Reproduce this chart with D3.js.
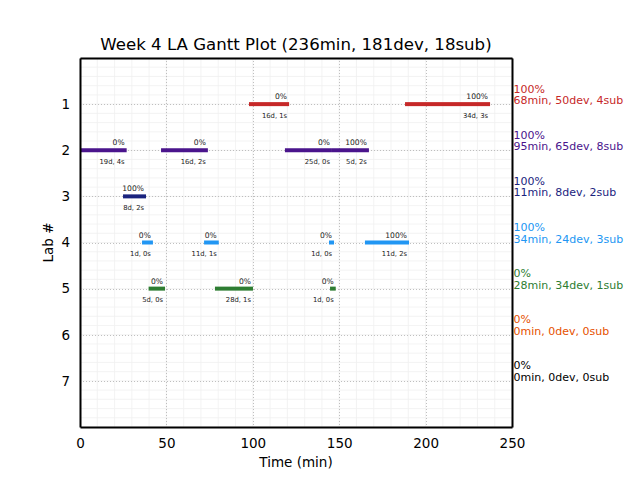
<!DOCTYPE html>
<html><head><meta charset="utf-8">
<script src="https://cdn.jsdelivr.net/npm/d3@7"></script>
<style>body{margin:0;background:#fff}text{font-family:"DejaVu Sans",sans-serif}</style>
</head><body><svg id="c" width="640" height="480"></svg>
<script>
const titleText = "Week 4 LA Gantt Plot (236min, 181dev, 18sub)";
const labs = [1, 2, 3, 4, 5, 6, 7];
const labColors = ["#C62828", "#4A148C", "#1A237E", "#2196F3", "#2E7D32", "#E65100", "#000000"];
const labPct = ["100%", "100%", "100%", "100%", "0%", "0%", "0%"];
const labSummary = ["68min, 50dev, 4sub", "95min, 65dev, 8sub", "11min, 8dev, 2sub", "34min, 24dev, 3sub", "28min, 34dev, 1sub", "0min, 0dev, 0sub", "0min, 0dev, 0sub"];
const xTicks = [0, 50, 100, 150, 200, 250];
const taskLab   = [1, 1, 2, 2, 2, 2, 3, 4, 4, 4, 4, 5, 5, 5];
const taskStart = [97.8, 188.1, 0, 46.9, 118.6, 145.8, 24.9, 35.9, 71.8, 144.1, 164.9, 39.7, 78.1, 144.7];
const taskEnd   = [121, 237.3, 27, 74, 145.8, 167.2, 38.2, 42.2, 80.3, 147, 190.4, 49.2, 100.1, 148];
const taskPct   = ["0%", "100%", "0%", "0%", "0%", "100%", "100%", "0%", "0%", "0%", "100%", "0%", "0%", "0%"];
const taskNote  = ["16d, 1s", "34d, 3s", "19d, 4s", "16d, 2s", "25d, 0s", "5d, 2s", "8d, 2s", "1d, 0s", "11d, 1s", "1d, 0s", "11d, 2s", "5d, 0s", "28d, 1s", "1d, 0s"];

const svg = d3.select("#c");
const L = 80, R = 512, T = 58, B = 427;
const x = d3.scaleLinear().domain([0, 250]).range([L, R]);
const y = d3.scaleLinear().domain([0, 8]).range([T, B]);

// minor grid
const g = svg.append("g").attr("class", "grid");
g.selectAll("line.mx").data(d3.range(0, 251, 10)).enter().append("line").attr("class", "mx")
  .attr("x1", d => x(d)).attr("x2", d => x(d)).attr("y1", T).attr("y2", B)
  .attr("stroke", "#f0f0f0").attr("stroke-width", 0.8);
g.selectAll("line.my").data(d3.range(0, 8.01, 0.2)).enter().append("line").attr("class", "my")
  .attr("y1", d => y(d)).attr("y2", d => y(d)).attr("x1", L).attr("x2", R)
  .attr("stroke", "#f0f0f0").attr("stroke-width", 0.8);
// major grid
g.selectAll("line.Mx").data(xTicks).enter().append("line").attr("class", "Mx")
  .attr("x1", d => Math.round(x(d)) + 0.5).attr("x2", d => Math.round(x(d)) + 0.5).attr("y1", T).attr("y2", B)
  .attr("stroke", "#b0b0b0").attr("stroke-width", 0.8).attr("stroke-dasharray", "1,2");
g.selectAll("line.My").data(labs).enter().append("line").attr("class", "My")
  .attr("y1", d => Math.round(y(d)) + 0.5).attr("y2", d => Math.round(y(d)) + 0.5).attr("x1", L).attr("x2", R)
  .attr("stroke", "#b0b0b0").attr("stroke-width", 0.8).attr("stroke-dasharray", "1,2");

// bars
const tasks = taskLab.map((l, i) => ({lab: l, s: taskStart[i], e: taskEnd[i], p: taskPct[i], n: taskNote[i]}));
svg.selectAll("rect.bar").data(tasks).enter().append("rect").attr("class", "bar")
  .attr("x", d => x(d.s)).attr("width", d => x(d.e) - x(d.s))
  .attr("y", d => y(d.lab) - 2).attr("height", 4)
  .attr("fill", d => labColors[d.lab - 1]);
svg.selectAll("text.pct").data(tasks).enter().append("text").attr("class", "pct")
  .attr("x", d => x(d.e) - 2).attr("y", d => y(d.lab) - 5)
  .attr("text-anchor", "end").attr("font-size", 7.6).attr("fill", "#222").text(d => d.p);
svg.selectAll("text.note").data(tasks).enter().append("text").attr("class", "note")
  .attr("x", d => x(d.e) - 2).attr("y", d => y(d.lab) + 13.5)
  .attr("text-anchor", "end").attr("font-size", 6.8).attr("fill", "#222").text(d => d.n);

// axes: domains form the frame
function styleAxis(sel) {
  sel.select(".domain").attr("stroke", "#000").attr("stroke-width", 2);
  sel.selectAll("text").attr("font-size", 13.5).attr("font-family", "DejaVu Sans").attr("fill", "#000");
}
svg.append("g").attr("class", "xaxis").attr("transform", `translate(0,${B})`)
  .call(d3.axisBottom(x).tickValues(xTicks).tickSize(0).tickPadding(11).tickFormat(d3.format("d"))).call(styleAxis);
svg.append("g").attr("class", "yaxis").attr("transform", `translate(${L},0)`)
  .call(d3.axisLeft(y).tickValues(labs).tickSize(0).tickPadding(10).tickFormat(d3.format("d"))).call(styleAxis);
svg.append("g").attr("class", "xaxis2").attr("transform", `translate(0,${T})`)
  .call(d3.axisTop(x).tickValues([]).tickSize(0)).call(styleAxis);
svg.append("g").attr("class", "yaxis2").attr("transform", `translate(${R},0)`)
  .call(d3.axisRight(y).tickValues([]).tickSize(0)).call(styleAxis);

svg.append("text").attr("x", (L + R) / 2).attr("y", 467).attr("text-anchor", "middle")
  .attr("font-size", 13.5).text("Time (min)");
svg.append("text").attr("transform", `translate(53,${(T + B) / 2}) rotate(-90)`).attr("text-anchor", "middle")
  .attr("font-size", 13.5).text("Lab #");
svg.append("text").attr("x", (L + R) / 2).attr("y", 50).attr("text-anchor", "middle")
  .attr("font-size", 16.6).text(titleText);

// right summaries
const rs = svg.selectAll("g.sum").data(labs).enter().append("g").attr("class", "sum");
rs.append("text").attr("x", R + 1.5).attr("y", d => y(d) - 11.5).attr("font-size", 11)
  .attr("fill", (d, i) => labColors[i]).text((d, i) => labPct[i]);
rs.append("text").attr("x", R + 1.5).attr("y", d => y(d)).attr("font-size", 11)
  .attr("fill", (d, i) => labColors[i]).text((d, i) => labSummary[i]);
</script></body></html>
